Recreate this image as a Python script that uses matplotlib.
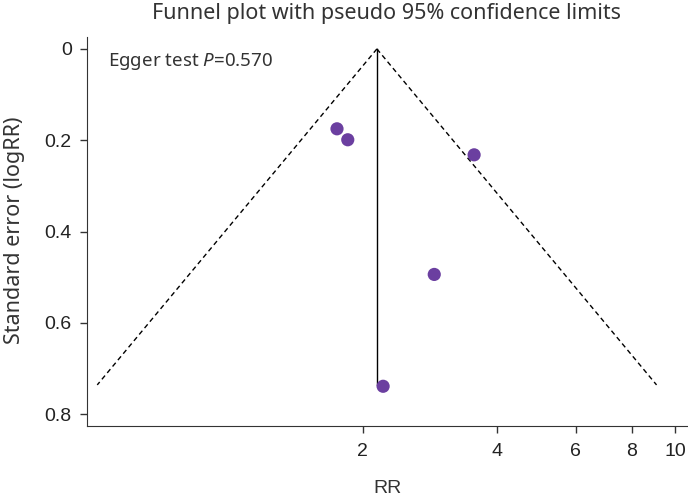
import numpy as np
import matplotlib
matplotlib.use("Agg")
import matplotlib.pyplot as plt
from matplotlib.ticker import FixedLocator, NullLocator, FixedFormatter

plt.rcParams['font.family'] = ['Noto Sans', 'DejaVu Sans']
plt.rcParams['mathtext.fontset'] = 'custom'
plt.rcParams['mathtext.rm'] = 'Noto Sans'
plt.rcParams['mathtext.it'] = 'Noto Sans:italic'

# study estimates (RR) and standard errors of log RR
rr = [1.75, 1.85, 3.55, 2.89, 2.22]
se = [0.175, 0.199, 0.232, 0.494, 0.739]
pooled_rr = 2.15
se_max = 0.736
x_ticks = [2, 4, 6, 8, 10]
y_ticks = [0, 0.2, 0.4, 0.6, 0.8]

fig = plt.figure(figsize=(6.88, 4.98), dpi=100)
ax = fig.add_axes([0.1265, 0.1446, 0.8735, 0.781])

# pseudo 95% confidence limits
s = np.array([0, se_max])
lo = np.exp(np.log(pooled_rr) - 1.96 * s)
hi = np.exp(np.log(pooled_rr) + 1.96 * s)
ax.plot(lo, s, 'k--', lw=1, dashes=(3.5, 2.5))
ax.plot(hi, s, 'k--', lw=1, dashes=(3.5, 2.5))
ax.plot([pooled_rr, pooled_rr], [0, se_max], color='black', lw=1)

ax.scatter(rr, se, s=90, color='#6b3fa0', zorder=3, edgecolors='none')

ax.set_xscale('log')
ax.set_xlim(0.482, 10.7)
ax.set_ylim(0.826, -0.026)
ax.xaxis.set_major_locator(FixedLocator(x_ticks))
ax.xaxis.set_major_formatter(FixedFormatter([str(t) for t in x_ticks]))
ax.xaxis.set_minor_locator(NullLocator())
ax.set_yticks(y_ticks)
ax.set_yticklabels(['0', '0.2', '0.4', '0.6', '0.8'])

for sp in ['top', 'right']:
    ax.spines[sp].set_visible(False)
ax.spines['left'].set_color('#333333')
ax.spines['bottom'].set_color('#333333')
ax.tick_params(direction='out', length=5, width=1, colors='#333333', labelsize=14,
               labelcolor='#222222')
ax.tick_params(axis='y', pad=6)
ax.tick_params(axis='x', pad=7)
for lab in ax.get_xticklabels() + ax.get_yticklabels():
    lab.set_family('Liberation Sans')

ax.set_xlabel('RR', fontsize=14, color='#333333', family='Liberation Sans', va='center')
ax.xaxis.set_label_coords(0.5, -0.162)
ax.set_ylabel('Standard error (logRR)', fontsize=15.5, color='#333333', va='center')
ax.yaxis.set_label_coords(-0.121, 0.504)
fig.text(0.5625, 1 - 13 / 498, 'Funnel plot with pseudo 95% confidence limits',
         fontsize=15.5, color='#333333', ha='center', va='center')
ax.text(0.537, 0.0285, 'Egger test $P$=0.570', fontsize=13.5, color='#333333',
        va='center', ha='left')

fig.savefig('out.png', dpi=100)
